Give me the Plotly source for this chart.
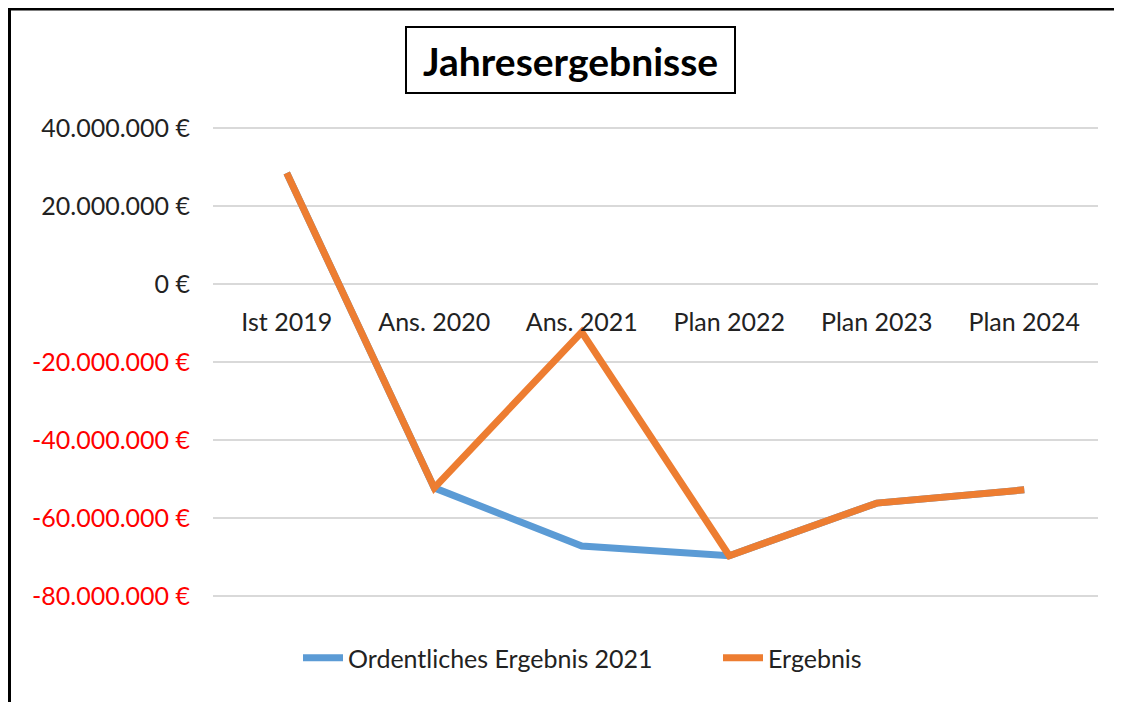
import plotly.graph_objects as go

categories = ["Ist 2019", "Ans. 2020", "Ans. 2021", "Plan 2022", "Plan 2023", "Plan 2024"]
ordentliches_ergebnis_2021 = [28.5e6, -52.3e6, -67.2e6, -69.7e6, -56.2e6, -52.8e6]
ergebnis = [28.5e6, -52.3e6, -12.3e6, -69.7e6, -56.2e6, -52.8e6]
y_tick_values = [40e6, 20e6, 0, -20e6, -40e6, -60e6, -80e6]
y_tick_labels = ["40.000.000 €", "20.000.000 €", "0 €", "-20.000.000 €",
                 "-40.000.000 €", "-60.000.000 €", "-80.000.000 €"]

OFF = 8  # page body margin
W, H = 1122 - OFF, 702 - OFF
# plot area in page coordinates
PX0, PX1, PY0, PY1 = 213, 1098, 127, 597
L, R, T, B = PX0 - OFF, W - (PX1 - OFF), PY0 - OFF, H - (PY1 - OFF)
pw, ph = W - L - R, H - T - B


def px(x):
    return (x - OFF - L) / pw


def py(y):
    return (H - B - (y - OFF)) / ph


FONT = "Lato, 'Open Sans', sans-serif"
TXT = "#222222"
FS = 25

fig = go.Figure()
fig.add_trace(go.Scatter(x=categories, y=ordentliches_ergebnis_2021, mode="lines",
                         name="Ordentliches Ergebnis 2021",
                         line=dict(color="#5B9BD5", width=7)))
fig.add_trace(go.Scatter(x=categories, y=ergebnis, mode="lines", name="Ergebnis",
                         line=dict(color="#ED7D31", width=7)))

ticktext = []
for v, t in zip(y_tick_values, y_tick_labels):
    if v < 0:
        ticktext.append('<span style="color:#FF0000">' + t + '</span>')
    else:
        ticktext.append(t)

fig.update_layout(
    width=W, height=H,
    margin=dict(l=L, r=R, t=T, b=B, autoexpand=False),
    paper_bgcolor="white", plot_bgcolor="white",
    font=dict(family=FONT, size=FS, color=TXT),
    showlegend=True,
    legend=dict(orientation="h", x=px(298), y=py(658), xanchor="left", yanchor="middle",
                font=dict(size=FS, color=TXT), itemwidth=40, traceorder="normal",
                entrywidth=365, entrywidthmode="pixels",
                bgcolor="rgba(0,0,0,0)"),
    xaxis=dict(type="category", range=[-0.5, 5.5], anchor="free", position=py(284),
               showline=False, showgrid=False, zeroline=False, ticks="",
               ticklabelstandoff=21, tickfont=dict(size=FS, color=TXT)),
    yaxis=dict(range=[-80.3e6, 40.3e6], tickvals=y_tick_values, ticktext=ticktext,
               showgrid=True, gridcolor="#D9D9D9", gridwidth=1.5, zeroline=False,
               showline=False, ticks="", ticklabelstandoff=22,
               tickfont=dict(size=FS, color=TXT)),
)

fig.add_shape(type="rect", xref="paper", yref="paper",
              x0=px(406), x1=px(735), y0=py(93), y1=py(27),
              line=dict(color="black", width=2), fillcolor="white")
fig.add_annotation(text="<b>Jahresergebnisse</b>", xref="paper", yref="paper",
                   x=px(570.5), y=py(61), xanchor="center", yanchor="middle",
                   showarrow=False, font=dict(size=39, color="black", family=FONT))

fig.add_shape(type="rect", xref="paper", yref="paper",
              x0=px(9.5), x1=px(1116.5), y0=py(720), y1=py(9),
              line=dict(color="black", width=3), fillcolor="rgba(0,0,0,0)", layer="below")

fig.write_html("out.html")
